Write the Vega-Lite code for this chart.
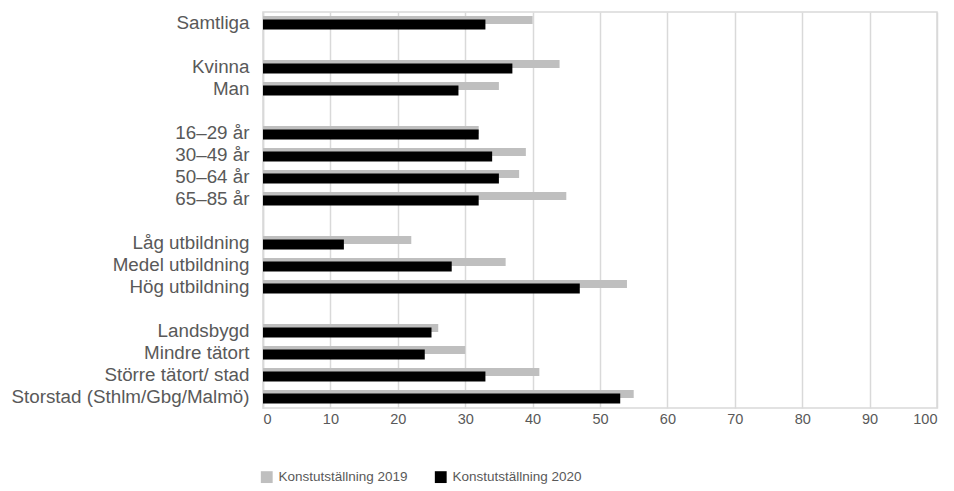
{
  "$schema": "https://vega.github.io/schema/vega-lite/v6.json",
  "width": 674,
  "height": 396,
  "autosize": {"type": "none"},
  "padding": {"left": 263, "top": 12, "right": 17, "bottom": 83},
  "background": "white",
  "config": {
    "view": {"stroke": "#d9d9d9", "strokeWidth": 1.5},
    "font": "Liberation Sans"
  },
  "data": {
    "values": [
      {"kategori": "Samtliga", "serie": "Konstutställning 2019", "andel": 40},
      {"kategori": "Samtliga", "serie": "Konstutställning 2020", "andel": 33},
      {"kategori": "Kvinna", "serie": "Konstutställning 2019", "andel": 44},
      {"kategori": "Kvinna", "serie": "Konstutställning 2020", "andel": 37},
      {"kategori": "Man", "serie": "Konstutställning 2019", "andel": 35},
      {"kategori": "Man", "serie": "Konstutställning 2020", "andel": 29},
      {"kategori": "16–29 år", "serie": "Konstutställning 2019", "andel": 32},
      {"kategori": "16–29 år", "serie": "Konstutställning 2020", "andel": 32},
      {"kategori": "30–49 år", "serie": "Konstutställning 2019", "andel": 39},
      {"kategori": "30–49 år", "serie": "Konstutställning 2020", "andel": 34},
      {"kategori": "50–64 år", "serie": "Konstutställning 2019", "andel": 38},
      {"kategori": "50–64 år", "serie": "Konstutställning 2020", "andel": 35},
      {"kategori": "65–85 år", "serie": "Konstutställning 2019", "andel": 45},
      {"kategori": "65–85 år", "serie": "Konstutställning 2020", "andel": 32},
      {"kategori": "Låg utbildning", "serie": "Konstutställning 2019", "andel": 22},
      {"kategori": "Låg utbildning", "serie": "Konstutställning 2020", "andel": 12},
      {"kategori": "Medel utbildning", "serie": "Konstutställning 2019", "andel": 36},
      {"kategori": "Medel utbildning", "serie": "Konstutställning 2020", "andel": 28},
      {"kategori": "Hög utbildning", "serie": "Konstutställning 2019", "andel": 54},
      {"kategori": "Hög utbildning", "serie": "Konstutställning 2020", "andel": 47},
      {"kategori": "Landsbygd", "serie": "Konstutställning 2019", "andel": 26},
      {"kategori": "Landsbygd", "serie": "Konstutställning 2020", "andel": 25},
      {"kategori": "Mindre tätort", "serie": "Konstutställning 2019", "andel": 30},
      {"kategori": "Mindre tätort", "serie": "Konstutställning 2020", "andel": 24},
      {"kategori": "Större tätort/ stad", "serie": "Konstutställning 2019", "andel": 41},
      {"kategori": "Större tätort/ stad", "serie": "Konstutställning 2020", "andel": 33},
      {"kategori": "Storstad (Sthlm/Gbg/Malmö)", "serie": "Konstutställning 2019", "andel": 55},
      {"kategori": "Storstad (Sthlm/Gbg/Malmö)", "serie": "Konstutställning 2020", "andel": 53}
    ]
  },
  "encoding": {
    "y": {
      "field": "kategori",
      "type": "nominal",
      "scale": {
        "domain": ["Samtliga", " ", "Kvinna", "Man", "  ", "16–29 år", "30–49 år", "50–64 år", "65–85 år", "   ", "Låg utbildning", "Medel utbildning", "Hög utbildning", "    ", "Landsbygd", "Mindre tätort", "Större tätort/ stad", "Storstad (Sthlm/Gbg/Malmö)"],
        "paddingInner": 0,
        "paddingOuter": 0
      },
      "axis": {
        "title": null,
        "ticks": false,
        "domain": true,
        "domainColor": "#d9d9d9",
        "domainWidth": 1.5,
        "labelFont": "Liberation Sans",
        "labelFontSize": 18.8,
        "labelColor": "#595959",
        "labelPadding": 14,
        "labelLimit": 300
      }
    },
    "x": {
      "field": "andel",
      "type": "quantitative",
      "scale": {"domain": [0, 100], "nice": false},
      "axis": {
        "title": null,
        "values": [0, 10, 20, 30, 40, 50, 60, 70, 80, 90, 100],
        "ticks": false,
        "domain": false,
        "grid": true,
        "gridColor": "#d9d9d9",
        "gridWidth": 1.5,
        "labelFont": "Liberation Sans",
        "labelFontSize": 14.5,
        "labelColor": "#595959",
        "labelPadding": 4
      }
    },
    "color": {
      "field": "serie",
      "type": "nominal",
      "scale": {"domain": ["Konstutställning 2019", "Konstutställning 2020"], "range": ["#bfbfbf", "#000000"]},
      "legend": {
        "title": null,
        "orient": "none",
        "direction": "horizontal",
        "legendX": -3,
        "legendY": 458,
        "symbolType": "square",
        "symbolSize": 140,
        "symbolStrokeWidth": 0,
        "labelFont": "Liberation Sans",
        "labelFontSize": 13.5,
        "labelColor": "#595959",
        "labelOffset": 5,
        "columnPadding": 26,
        "labelLimit": 300
      }
    }
  },
  "layer": [
    {
      "transform": [{"filter": "datum.serie === 'Konstutställning 2019'"}],
      "mark": {"type": "bar", "height": 8, "yOffset": -3}
    },
    {
      "transform": [{"filter": "datum.serie === 'Konstutställning 2020'"}],
      "mark": {"type": "bar", "height": 10, "yOffset": 1.5}
    }
  ]
}
